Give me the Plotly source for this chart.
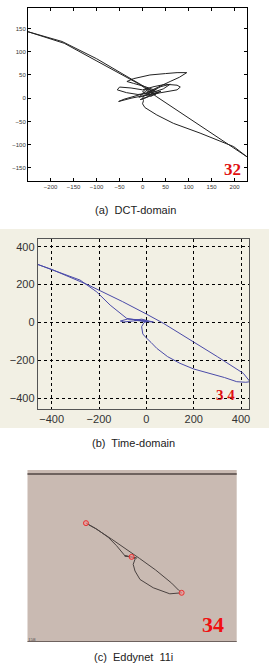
import plotly.graph_objects as go

W, H = 269, 672

# ---------- data ----------
# (a) DCT-domain trajectory
dct_x = [5, 20, 40, 60, 45, 20, -10, -35, -55, -50, -25, 0, 25, 50, 75, 82, 75, 50, 25, 0,
         -25, -45, -52, -40, -15, 10, 25, 5, -20, -34, -20, 16, 50, 75, 96, 80, 60, 31, 15, 5,
         0, 2, 0, 5, 20, 31, 67, 125, 198, 227, 183, 96, 31, -5, -93, -170, -249, -175, -100,
         -20, 9, 20, 10, 30, 15, -5, 5, 40, 20, -8, 12, 35, 18, 0, 10, 28, 8]
dct_y = [5, 15, 25, 30, 20, 12, 8, 12, 18, 24, 22, 18, 25, 30, 28, 24, 18, 14, 10, 5,
         0, -6, -7, -2, 5, 12, 18, 25, 32, 36, 42, 50, 53, 55, 55, 45, 36, 22, 15, 8,
         0, -5, -12, -20, -30, -36, -54, -75, -104, -126, -97, -40, 3, 29, 77, 118, 143, 122, 85,
         40, 22, 15, 8, 20, 5, -3, 0, 15, 10, 2, 20, 12, 4, 14, 22, 8, 16]

# (b) Time-domain trajectory
time_x = [0, -30, -80, -110, -95, -60, -30, 0, 30, 10, -10, -20, -15, -5, 20, 44, 90, 142, 200,
          269, 330, 382, 420, 438, 410, 300, 199, 72, 0, -100, -245, -330, -400, -460, -393,
          -280, -210, -153, -83, -40, 0, -50, -20, 10]
time_y = [10, 15, 18, 8, 3, 10, 12, 5, 3, 8, 0, -22, -60, -75, -105, -136, -180, -215, -245,
          -268, -290, -312, -315, -312, -268, -180, -101, -4, 45, 110, 198, 245, 280, 307, 277,
          224, 162, 92, 22, 15, 5, 12, 18, 8]

# (c) Eddynet 11i trajectory
eddy_x = [-228, -180, -100, -20, 40, 120, 200, 235, 250, 191, 108, 42, 17, 8, 17, 5, -35, 25,
          -33, -75, -117, -175, -228]
eddy_y = [167, 140, 88, 35, -8, -65, -130, -165, -178, -183, -153, -112, -70, -37, -12, 0, 5, -6,
          5, 55, 97, 138, 167]
eddy_mark_x = [-228, 250, 0]
eddy_mark_y = [167, -178, 0]

dct_ticks = [-200, -150, -100, -50, 0, 50, 100, 150, 200]
dct_yticks = [-150, -100, -50, 0, 50, 100, 150]
time_ticks = [-400, -200, 0, 200, 400]

captions = ["(a)  DCT-domain", "(b)  Time-domain", "(c)  Eddynet  11i"]
labels = ["32", "34", "34"]

# ---------- figure ----------
fig = go.Figure()
fig.add_trace(go.Scatter(x=dct_x, y=dct_y, mode="lines", xaxis="x", yaxis="y",
                         line=dict(color="#222222", width=1), showlegend=False, hoverinfo="skip"))
fig.add_trace(go.Scatter(x=time_x, y=time_y, mode="lines", xaxis="x2", yaxis="y2",
                         line=dict(color="#4a4aa8", width=1), showlegend=False, hoverinfo="skip"))
fig.add_trace(go.Scatter(x=eddy_x, y=eddy_y, mode="lines", xaxis="x3", yaxis="y3",
                         line=dict(color="#4a4240", width=1), showlegend=False, hoverinfo="skip"))
fig.add_trace(go.Scatter(x=eddy_mark_x, y=eddy_mark_y, mode="markers", xaxis="x3", yaxis="y3",
                         marker=dict(size=5, color="rgba(240,150,150,0.7)",
                                     line=dict(color="#e83030", width=1)),
                         showlegend=False, hoverinfo="skip"))

def px2x(px):
    return px / W

def py2y(py):
    return 1 - py / H

axA = dict(showgrid=False, zeroline=False, showline=True, linecolor="black", linewidth=1,
           mirror="ticks", ticks="inside", ticklen=3, tickcolor="black",
           tickfont=dict(size=6, color="#333333", family="Liberation Sans"))
axB = dict(showgrid=True, gridcolor="black", griddash="dot", gridwidth=1, zeroline=False,
           showline=True, linecolor="#555555", linewidth=1, mirror=True, ticks="",
           tickfont=dict(size=11, color="#333333", family="Liberation Sans"))
axC = dict(visible=False, showgrid=False, zeroline=False)

fig.update_layout(
    width=W, height=H, margin=dict(l=0, r=0, t=0, b=0),
    paper_bgcolor="white", plot_bgcolor="white",
    xaxis=dict(axA, domain=[px2x(28), px2x(247)], range=[-249, 227], anchor="y",
               tickvals=dct_ticks),
    yaxis=dict(axA, domain=[py2y(181), py2y(8)], range=[-178, 194], anchor="x",
               tickvals=dct_yticks),
    xaxis2=dict(axB, domain=[px2x(37.7), px2x(249.3)], range=[-459, 435], anchor="y2",
                tickvals=time_ticks),
    yaxis2=dict(axB, domain=[py2y(409), py2y(239.3)], range=[-456, 439], anchor="x2",
                tickvals=time_ticks),
    xaxis3=dict(axC, domain=[px2x(27.5), px2x(236.7)], range=[-520, 525], anchor="y3"),
    yaxis3=dict(axC, domain=[py2y(642), py2y(470)], range=[-421.5, 430], anchor="x3"),
)

shapes = [
    # beige panel behind (b)
    dict(type="rect", xref="paper", yref="paper", x0=0, x1=1, y0=py2y(428), y1=py2y(229),
         fillcolor="#f2f0e4", line=dict(width=0), layer="below"),
    # gray background of (c)
    dict(type="rect", xref="x3 domain", yref="y3 domain", x0=0, x1=1, y0=0, y1=1,
         fillcolor="#c9bab2", line=dict(width=0), layer="below"),
    # dark top band of (c)
    dict(type="rect", xref="paper", yref="paper", x0=px2x(27.5), x1=px2x(236.7),
         y0=py2y(475), y1=py2y(473), fillcolor="#6e625e", line=dict(width=0)),
    # bottom line of (c)
    dict(type="line", xref="paper", yref="paper", x0=px2x(27.5), x1=px2x(236.7),
         y0=py2y(641.5), y1=py2y(641.5), line=dict(color="#6e625e", width=1)),
]
fig.update_layout(shapes=shapes)

def ann(text, px, py, size, color, family):
    return dict(text=text, x=px2x(px), y=py2y(py), xref="paper", yref="paper",
                xanchor="center", yanchor="middle", showarrow=False,
                font=dict(size=size, color=color, family=family))

annotations = [
    ann(captions[0], 135, 210, 11, "#222222", "Liberation Sans"),
    ann(captions[1], 133, 443, 11, "#222222", "Liberation Sans"),
    ann(captions[2], 133, 657, 11, "#222222", "Liberation Sans"),
    ann("<b>" + labels[0] + "</b>", 232, 169, 17, "#e01010", "Liberation Serif"),
    ann("<b>" + " ".join(labels[1]) + "</b>", 225, 395, 15, "#e01010", "Liberation Serif"),
    ann("<b>" + labels[2] + "</b>", 213, 624, 22, "#f01010", "Liberation Serif"),
    ann("158", 32, 639, 5, "#444444", "Liberation Serif"),
]
fig.update_layout(annotations=annotations)

fig.write_html("out.html")
